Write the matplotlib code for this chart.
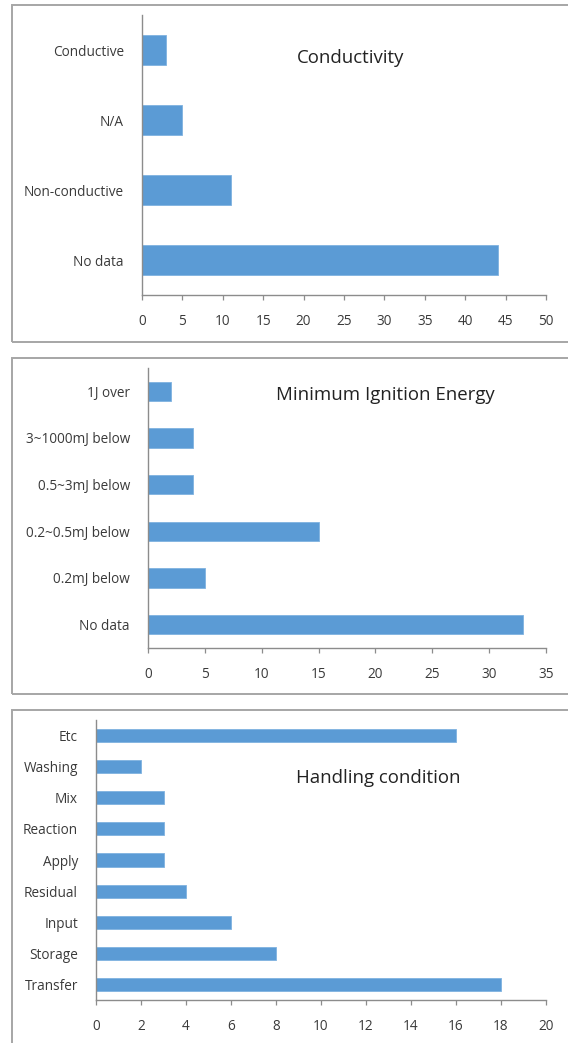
"""Horizontal bar charts: conductivity, minimum ignition energy, handling condition."""

import matplotlib.pyplot as plt
from matplotlib.patches import Rectangle

conductivity_labels = ["No data", "Non-conductive", "N/A", "Conductive"]
conductivity_counts = [44, 11, 5, 3]

mie_labels = ["No data", "0.2mJ below", "0.2~0.5mJ below", "0.5~3mJ below",
              "3~1000mJ below", "1J over"]
mie_counts = [33, 5, 15, 4, 4, 2]

handling_labels = ["Transfer", "Storage", "Input", "Residual", "Apply",
                   "Reaction", "Mix", "Washing", "Etc"]
handling_counts = [18, 8, 6, 4, 3, 3, 3, 2, 16]

BAR_COLOR = "#5B9BD5"
AXIS_COLOR = "#8C8C8C"
TEXT_COLOR = "#3A3A3A"
FONT = ["Open Sans", "DejaVu Sans"]

W, H = 568, 1043
plt.rcParams["font.family"] = FONT

fig = plt.figure(figsize=(W / 100, H / 100), dpi=100)


def px_axes(left, top, right, bottom):
    return fig.add_axes([left / W, 1 - bottom / H, (right - left) / W, (bottom - top) / H])


def panel_box(top, bottom):
    fig.patches.append(Rectangle((12 / W, 1 - bottom / H), (W + 10) / W, (bottom - top) / H,
                                 transform=fig.transFigure, fill=False,
                                 edgecolor="#A6A6A6", linewidth=1.4))


def bar_panel(ax, labels, counts, xmax, step, title, title_xy):
    n = len(labels)
    ax.barh(range(n), counts, height=0.42, color=BAR_COLOR, edgecolor="#7FB2E0", linewidth=0.6)
    ax.set_ylim(-0.5, n - 0.5)
    ax.set_xlim(0, xmax)
    ax.set_xticks(range(0, xmax + 1, step))
    ax.set_yticks(range(n))
    ax.set_yticklabels(labels)
    for side in ("top", "right"):
        ax.spines[side].set_visible(False)
    for side in ("left", "bottom"):
        ax.spines[side].set_color(AXIS_COLOR)
        ax.spines[side].set_linewidth(1.0)
    ax.tick_params(axis="x", length=3.5, width=0.9, color=AXIS_COLOR, pad=10,
                   labelsize=9.8, labelcolor=TEXT_COLOR)
    ax.tick_params(axis="y", length=0, pad=13, labelsize=9.8, labelcolor=TEXT_COLOR)
    ax.set_facecolor("none")
    fig.text(title_xy[0] / W, 1 - title_xy[1] / H, title, ha="center", va="center",
             fontsize=13.4, color="#222222")


panel_box(5, 342)
panel_box(358, 694)
panel_box(710, H + 10)

ax1 = px_axes(142, 15, 546, 295)
bar_panel(ax1, conductivity_labels, conductivity_counts, 50, 5, "Conductivity", (351, 58))

ax2 = px_axes(148, 368, 546, 648)
bar_panel(ax2, mie_labels, mie_counts, 35, 5, "Minimum Ignition Energy", (385, 395))

ax3 = px_axes(96, 720, 546, 1000)
bar_panel(ax3, handling_labels, handling_counts, 20, 2, "Handling condition", (378, 778))

fig.savefig("out.png", dpi=100)
